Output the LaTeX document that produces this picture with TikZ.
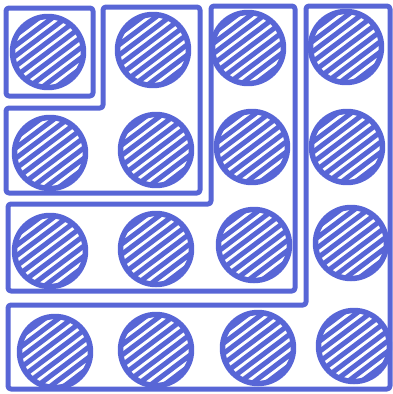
\documentclass[tikz,border=0pt]{standalone}
\definecolor{ink}{RGB}{88,102,214}
\begin{document}
\begin{tikzpicture}[x=1pt,y=-1pt, line join=round,
 frame/.style={draw=ink, line width=5pt, rounded corners=3pt},
 hatchline/.style={draw=ink, line width=5pt},
 rim/.style={draw=ink, line width=5.5pt}]
\useasboundingbox (0,0) rectangle (393,394);
\draw[frame] (6,8) rectangle (93,96);
\draw[frame] (103,7) -- (200,7) -- (200,193) -- (6,193) -- (6,108) -- (103,108) -- cycle;
\draw[frame] (211,6) -- (295,6) -- (295,291) -- (8,291) -- (8,204) -- (211,204) -- cycle;
\draw[frame] (306,6) -- (390,6) -- (390,389) -- (8,389) -- (8,305) -- (306,305) -- cycle;
\foreach \cx/\cy in {48/52,153/50,248/48,346/47, 50/153,156/150,252/147,347/147, 50/251,156/249,254/245,351/243, 55/352,156/350,258/348,354/346}{
 \begin{scope}
 \clip (\cx,\cy) circle[radius=35.5];
 \begin{scope}[shift={(\cx,\cy)}, rotate=37]
 \foreach \k in {-6,...,6} \draw[hatchline] (-50,\k*8.2) -- (50,\k*8.2);
 \end{scope}
 \end{scope}
 \draw[rim] (\cx,\cy) circle[radius=35.5];
}
\end{tikzpicture}
\end{document}
